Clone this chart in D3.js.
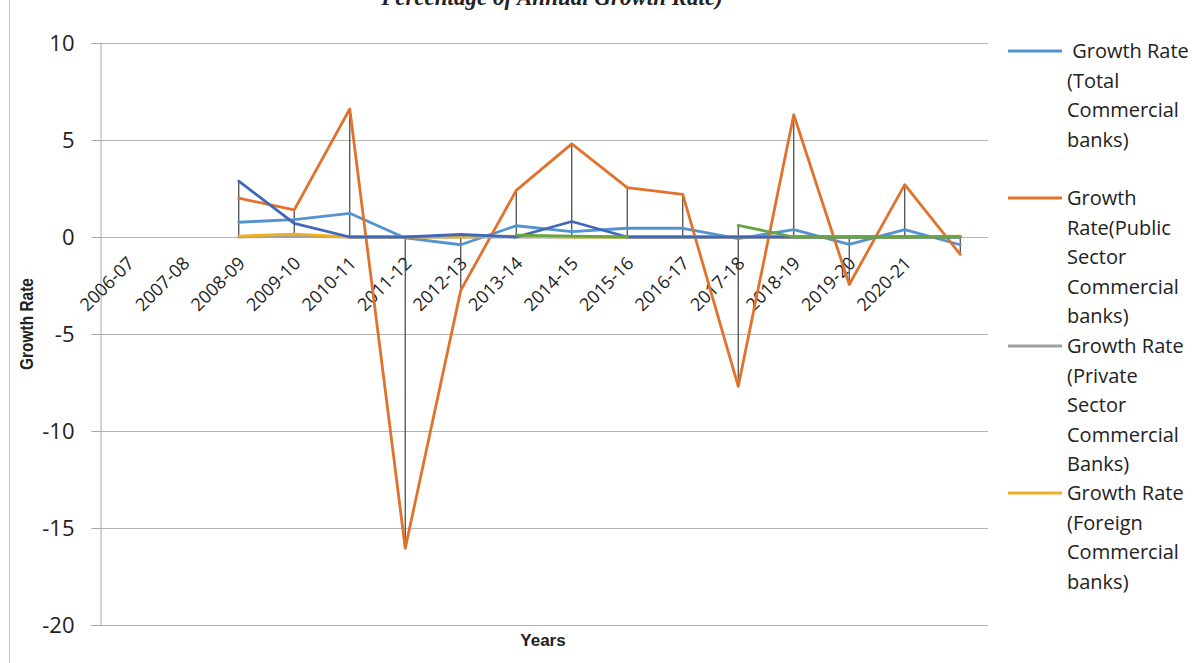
<!DOCTYPE html>
<html>
<head>
<meta charset="utf-8">
<script src="https://cdn.jsdelivr.net/npm/d3@7"></script>
<style>
  body { margin: 0; background: #fff; }
  svg { display: block; }
</style>
</head>
<body>
<svg id="chart" width="1198" height="663"></svg>
<script>
// Financial years on the category axis (the last slot carries no label)
const categories = ["2006-07", "2007-08", "2008-09", "2009-10", "2010-11", "2011-12",
  "2012-13", "2013-14", "2014-15", "2015-16", "2016-17", "2017-18", "2018-19",
  "2019-20", "2020-21", ""];

// Annual growth rates (%); null = no observation
const totalGrowth   = [null, null, 0.76, 0.9, 1.22, -0.05, -0.4, 0.58, 0.28, 0.45, 0.45, -0.08, 0.38, -0.38, 0.38, -0.4];
const publicGrowth  = [null, null, 2.0, 1.4, 6.6, -16.05, -2.75, 2.4, 4.8, 2.55, 2.2, -7.7, 6.3, -2.45, 2.7, -0.9];
const privateGrowth = [null, null, 0, 0.05, 0, 0, 0, 0, 0, 0, 0, 0, 0, 0, 0, 0];
const foreignGrowth = [null, null, 0.05, 0.15, 0, 0, 0, 0.05, 0, 0, 0, 0, 0, 0, 0, 0.05];
const series5Growth = [null, null, 2.88, 0.7, 0, 0, 0.13, 0, 0.8, 0, 0, 0, 0, 0, 0, 0];
const series6Growth = [null, null, null, null, null, null, null, 0.1, 0.05, 0, null, 0.6, 0, 0, 0, 0];

const yTicks = [10, 5, 0, -5, -10, -15, -20];

const seriesNames = [
  " Growth Rate\n(Total\nCommercial\nbanks)",
  "Growth\nRate(Public\nSector\nCommercial\nbanks)",
  "Growth Rate\n(Private\nSector\nCommercial\nBanks)",
  "Growth Rate\n(Foreign\nCommercial\nbanks)",
  "Series 5",
  "Series 6"
];
const seriesColors = ["#5493cf", "#e0722c", "#a0a0a0", "#edb025", "#4068b8", "#67a443"];
const seriesValues = [totalGrowth, publicGrowth, privateGrowth, foreignGrowth, series5Growth, series6Growth];
const legendCount = 4;

const svg = d3.select("#chart");
const plot = { left: 100, right: 988, top: 43, bottom: 625 };

const x = d3.scaleBand().domain(d3.range(categories.length)).range([plot.left, plot.right]);
const cx = i => x(i) + x.bandwidth() / 2;
const y = d3.scaleLinear().domain([-20, 10]).range([plot.bottom, plot.top]);

// outer frame edge on the left
svg.append("line").attr("x1", 9.5).attr("x2", 9.5).attr("y1", 0).attr("y2", 663)
  .attr("stroke", "#bfbfbf").attr("stroke-width", 1);

// title (partly outside the top edge)
svg.append("text").attr("x", 552).attr("y", 5).attr("text-anchor", "middle")
  .attr("font-family", "Liberation Serif").attr("font-style", "italic").attr("font-weight", "bold")
  .attr("font-size", 23).attr("fill", "#222").text("Percentage of Annual Growth Rate)");

// horizontal gridlines
svg.append("g").selectAll("line").data(yTicks).join("line")
  .attr("x1", plot.left).attr("x2", plot.right)
  .attr("y1", d => Math.round(y(d)) + 0.5).attr("y2", d => Math.round(y(d)) + 0.5)
  .attr("stroke", "#b3b3b3").attr("stroke-width", 1);

// value axis
const yAxis = d3.axisLeft(y).tickValues(yTicks).tickFormat(d => String(d)).tickSize(9).tickPadding(17);
const yg = svg.append("g").attr("transform", `translate(${plot.left + 0.5},0)`).call(yAxis);
yg.select(".domain").attr("stroke", "#a6a6a6");
yg.selectAll(".tick line").attr("stroke", "#a6a6a6");
yg.selectAll(".tick text").attr("font-family", "Open Sans").attr("font-size", 22).attr("fill", "#222");

// category labels along the zero line
const xAxis = d3.axisBottom(x).tickFormat(i => categories[i]).tickSize(0).tickPadding(0);
const xg = svg.append("g").attr("transform", `translate(0,${y(0)})`).call(xAxis);
xg.select(".domain").remove();
xg.selectAll(".tick text")
  .attr("font-family", "Open Sans").attr("font-size", 18).attr("fill", "#222")
  .attr("text-anchor", "end")
  .attr("transform", "translate(3,23) rotate(-45)")
  .attr("dy", "0.35em").attr("y", 0);

// high-low lines at each category
const hiLow = categories.map((c, i) => {
  const vals = seriesValues.map(s => s[i]).filter(v => v !== null);
  return vals.length ? { i, hi: d3.max(vals), lo: d3.min(vals) } : null;
}).filter(d => d);
svg.append("g").selectAll("line").data(hiLow).join("line")
  .attr("x1", d => cx(d.i)).attr("x2", d => cx(d.i))
  .attr("y1", d => y(d.hi)).attr("y2", d => y(d.lo))
  .attr("stroke", "#404040").attr("stroke-width", 1.2);

// series lines
const line = d3.line().defined(d => d.v !== null).x(d => cx(d.i)).y(d => y(d.v));
seriesValues.forEach((vals, k) => {
  svg.append("path")
    .datum(vals.map((v, i) => ({ i, v })))
    .attr("d", line)
    .attr("fill", "none").attr("stroke", seriesColors[k]).attr("stroke-width", 2.8)
    .attr("stroke-linejoin", "round").attr("stroke-linecap", "round");
});

// axis titles
svg.append("text").attr("transform", "translate(27,324) rotate(-90) scale(0.86,1)").attr("text-anchor", "middle")
  .attr("dy", "0.35em")
  .attr("font-family", "Liberation Sans").attr("font-weight", "bold").attr("font-size", 18)
  .attr("fill", "#222").text("Growth Rate");
svg.append("text").attr("x", 543).attr("y", 646).attr("text-anchor", "middle")
  .attr("font-family", "Liberation Sans").attr("font-weight", "bold").attr("font-size", 17)
  .attr("fill", "#222").text("Years");

// legend
const legendTop = [51, 198, 346, 493];
const lineStep = 29.5;
const lg = svg.append("g");
d3.range(legendCount).forEach(k => {
  const g = lg.append("g").attr("transform", `translate(0,${legendTop[k]})`);
  g.append("line").attr("x1", 1008).attr("x2", 1062).attr("y1", 0).attr("y2", 0)
    .attr("stroke", seriesColors[k]).attr("stroke-width", 3);
  const t = g.append("text").attr("font-family", "Open Sans").attr("font-size", 20)
    .attr("fill", "#222").style("white-space", "pre");
  seriesNames[k].split("\n").forEach((s, j) => {
    t.append("tspan").attr("x", 1067).attr("y", j * lineStep).attr("dy", "0.35em").text(s);
  });
});
</script>
</body>
</html>
